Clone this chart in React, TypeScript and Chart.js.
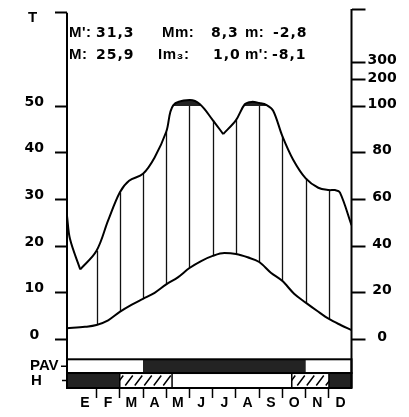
import React, { useEffect, useRef } from 'react';
import { Chart, registerables } from 'chart.js';

Chart.register(...registerables);

// ---------- data ----------
const MONTHS = ['E', 'F', 'M', 'A', 'M', 'J', 'J', 'A', 'S', 'O', 'N', 'D'];

// Temperature curve (°C); x in months counted from the start of January
const TEMP_X = [-0.27, 0.5, 1, 1.5, 2, 2.5, 3, 3.5, 4, 4.5, 5, 5.5, 6, 6.5, 7, 7.5, 8, 8.5, 9, 9.5, 10, 10.5, 11, 11.5, 11.97];
const TEMP_Y = [2.4, 2.7, 3.1, 4.1, 5.9, 7.4, 8.7, 10.0, 11.8, 13.3, 15.3, 16.8, 17.9, 18.5, 18.3, 17.6, 16.6, 14.3, 12.5, 9.8, 7.9, 6.1, 4.4, 3.1, 2.0];

// Precipitation curve (mm)
const PREC_X = [-0.27, -0.14, 0.3, 1, 1.5, 2, 2.4, 3, 3.5, 4, 4.3, 5, 5.45, 6, 6.45, 7, 7.38, 7.67, 8, 8.32, 8.6, 9, 9.46, 10, 10.54, 11, 11.26, 11.47, 11.97];
const PREC_MM = [53, 43, 30, 38, 51, 63, 68, 71, 78, 89, 103, 123, 107, 94, 88, 94, 107, 116, 112, 104, 98, 87, 77, 69, 65, 64, 64, 63, 49];

const TEMP_TICKS = [0, 10, 20, 30, 40, 50];
const TEMP_AXIS_TOP = 70;
const PREC_TICKS = [0, 20, 40, 60, 80, 100, 200, 300];
const PREC_CAP = 100;

// Bands (months)
const PAV_ACTIVE = [[3, 10]];
const FROST_SURE = [[-1, 2], [11, 13]];
const FROST_LIKELY = [[2, 4.25], [9.4, 11]];

// Statistics (label, value pairs)
const STATS_ROW1 = ["M':", '31,3', 'Mm:', '8,3', 'm:', '-2,8'];
const STATS_ROW2 = ['M:', '25,9', 'Im\u2083:', '1,0', "m':", '-8,1'];

// ---------- layout / style ----------
const W = 409;
const H = 417;
const X_MIN = -0.27;
const X_MAX = 11.97;
const Y_MIN = -10.4;
const Y_MAX = 70.8;
const ROW_PAV_TOP = -4.25;
const ROW_SPLIT = -7.19;
const DARK = '#232323';
const STAT_COLS_1 = [69, 96, 162, 211, 245, 273];
const STAT_COLS_2 = [69, 96, 158, 213, 245, 272];
const STAT_BASELINES = [36.5, 58.5];

function precToScale(p: number): number {
  if (p <= 100) return p / 2;
  if (p <= 200) return 50 + (p - 100) * 0.056;
  return 55.6 + (p - 200) * 0.037;
}

const numFont = { family: '"DejaVu Sans", sans-serif', size: 14, weight: 'bold' as const };
const letterFont = { family: '"Liberation Sans", Arial, sans-serif', size: 14, weight: 'bold' as const };

const zeroPad = (s: any) => {
  s.paddingTop = 0;
  s.paddingBottom = 0;
  s.paddingLeft = 0;
  s.paddingRight = 0;
};

const setSpacing = (ctx: any, v: string) => {
  try {
    ctx.letterSpacing = v;
  } catch (e) {
    /* ignore */
  }
};

const decorPlugin = {
  id: 'decor',
  beforeDatasetsDraw(chart: any) {
    const { ctx, chartArea } = chart;
    const xs = chart.scales.x;
    const ys = chart.scales.y;
    ctx.save();
    // humid-period hatching between the curves
    ctx.strokeStyle = '#111';
    ctx.lineWidth = 1.3;
    for (let k = 1; k <= 11; k++) {
      const ti = TEMP_X.indexOf(k);
      const pi = PREC_X.indexOf(k);
      if (ti < 0 || pi < 0) continue;
      const px = Math.round(xs.getPixelForValue(k)) + 0.5;
      ctx.beginPath();
      ctx.moveTo(px, ys.getPixelForValue(TEMP_Y[ti]));
      ctx.lineTo(px, ys.getPixelForValue(precToScale(PREC_MM[pi])));
      ctx.stroke();
    }
    // dark caps where precipitation exceeds 100 mm
    const yCap = ys.getPixelForValue(precToScale(PREC_CAP));
    ctx.beginPath();
    ctx.rect(chartArea.left, chartArea.top, chartArea.right - chartArea.left, yCap - chartArea.top);
    ctx.clip();
    ctx.fillStyle = DARK;
    chart.data.datasets.forEach((ds: any, i: number) => {
      if (!ds.isPrecip) return;
      const line = chart.getDatasetMeta(i).dataset;
      if (!line || !line.points || !line.points.length) return;
      if (line.updateControlPoints) line.updateControlPoints(chartArea, 'x');
      const pts = line.points;
      ctx.beginPath();
      line.path(ctx);
      ctx.lineTo(pts[pts.length - 1].x, yCap + 4);
      ctx.lineTo(pts[0].x, yCap + 4);
      ctx.closePath();
      ctx.fill();
    });
    ctx.restore();
  },
  afterDraw(chart: any) {
    const { ctx, chartArea } = chart;
    const xs = chart.scales.x;
    const ys = chart.scales.y;
    const left = chartArea.left;
    const right = chartArea.right;
    const cx = (v: number) => Math.min(right, Math.max(left, xs.getPixelForValue(v)));
    const yTop = ys.getPixelForValue(ROW_PAV_TOP);
    const yMid = ys.getPixelForValue(ROW_SPLIT);
    const yBot = chartArea.bottom;

    ctx.save();
    ctx.fillStyle = '#fff';
    ctx.fillRect(left, yTop, right - left, yBot - yTop);
    ctx.fillStyle = DARK;
    PAV_ACTIVE.forEach(([a, b]) => ctx.fillRect(cx(a), yTop, cx(b) - cx(a), yMid - yTop));
    FROST_SURE.forEach(([a, b]) => ctx.fillRect(cx(a), yMid, cx(b) - cx(a), yBot - yMid));
    ctx.strokeStyle = '#000';
    FROST_LIKELY.forEach(([a, b]) => {
      const xa = cx(a);
      const xb = cx(b);
      ctx.save();
      ctx.beginPath();
      ctx.rect(xa, yMid, xb - xa, yBot - yMid);
      ctx.clip();
      ctx.lineWidth = 1.5;
      ctx.beginPath();
      for (let sx = xa - 4; sx < xb + 10; sx += 9.5) {
        ctx.moveTo(sx, yBot - 2.5);
        ctx.lineTo(sx + 7.5, yMid + 2.5);
      }
      ctx.stroke();
      ctx.restore();
      ctx.lineWidth = 1.5;
      ctx.strokeRect(xa, yMid, xb - xa, yBot - yMid);
    });
    ctx.lineWidth = 2;
    ctx.strokeRect(left, yTop, right - left, yMid - yTop);
    ctx.strokeRect(left, yMid, right - left, yBot - yMid);

    // axis lines
    ctx.beginPath();
    ctx.moveTo(left, ys.getPixelForValue(TEMP_AXIS_TOP));
    ctx.lineTo(left, yBot);
    ctx.moveTo(right, chartArea.top);
    ctx.lineTo(right, yBot);
    ctx.stroke();

    // row labels with little dashes
    ctx.fillStyle = '#000';
    ctx.font = 'bold 15px "Liberation Sans", Arial, sans-serif';
    ctx.textBaseline = 'middle';
    ctx.textAlign = 'left';
    const pavY = (yTop + yMid) / 2;
    const hY = (yMid + yBot) / 2;
    ctx.fillText('PAV', 30, pavY);
    ctx.fillText('H', 31, hY);
    ctx.lineWidth = 1.5;
    ctx.beginPath();
    ctx.moveTo(left - 6, pavY);
    ctx.lineTo(left, pavY);
    ctx.moveTo(left - 5, hY);
    ctx.lineTo(left, hY);
    ctx.stroke();

    // axis title
    ctx.textAlign = 'center';
    ctx.fillText('T', 32.5, 18);

    // statistics: labels (even) in Liberation, values (odd) in DejaVu
    ctx.textAlign = 'left';
    ctx.textBaseline = 'alphabetic';
    const drawRow = (row: string[], cols: number[], yb: number) => {
      row.forEach((txt, c) => {
        if (c % 2 === 0) {
          ctx.font = 'bold 15px "Liberation Sans", Arial, sans-serif';
          setSpacing(ctx, '0.5px');
        } else {
          ctx.font = 'bold 14px "DejaVu Sans", sans-serif';
          setSpacing(ctx, '1px');
        }
        ctx.fillText(txt, cols[c], yb);
      });
    };
    drawRow(STATS_ROW1, STAT_COLS_1, STAT_BASELINES[0]);
    drawRow(STATS_ROW2, STAT_COLS_2, STAT_BASELINES[1]);
    setSpacing(ctx, '0px');
    ctx.restore();
  },
};

export default function App() {
  const ref = useRef<HTMLCanvasElement | null>(null);

  useEffect(() => {
    if (!ref.current) return;

    const tempData = TEMP_X.map((x, i) => ({ x, y: TEMP_Y[i] }));
    const precPts = PREC_X.map((x, i) => ({ x, y: precToScale(PREC_MM[i]) }));
    // split precipitation curve at its sharp local minima
    const cuts = [0];
    for (let i = 1; i < PREC_MM.length - 1; i++) {
      if (PREC_MM[i] < PREC_MM[i - 1] && PREC_MM[i] < PREC_MM[i + 1]) cuts.push(i);
    }
    cuts.push(PREC_MM.length - 1);
    const precSegments = cuts.slice(0, -1).map((c, j) => precPts.slice(c, cuts[j + 1] + 1));

    const datasets: any[] = [
      {
        label: 'T',
        data: tempData,
        borderColor: '#000',
        borderWidth: 2,
        pointRadius: 0,
        fill: false,
        cubicInterpolationMode: 'monotone',
        xAxisID: 'x',
        yAxisID: 'y',
      },
      ...precSegments.map((seg, j) => ({
        label: 'P' + j,
        isPrecip: true,
        data: seg,
        borderColor: '#000',
        borderWidth: 2,
        pointRadius: 0,
        tension: 0.35,
        fill: false,
        xAxisID: 'x',
        yAxisID: 'y',
      })),
    ];

    const monthTicks: number[] = [];
    for (let k = 0; k < 12; k++) {
      monthTicks.push(k + 0.5);
      if (k >= 1) monthTicks.push(k);
    }
    monthTicks.sort((a, b) => a - b);

    const chart = new Chart(ref.current, {
      type: 'line',
      data: { datasets },
      options: {
        animation: false,
        responsive: false,
        layout: { padding: { top: 9, left: 0, right: 0, bottom: 0 } },
        plugins: {
          legend: { display: false },
          tooltip: { enabled: false },
          title: { display: false },
        },
        scales: {
          x: {
            type: 'linear',
            min: X_MIN,
            max: X_MAX,
            afterBuildTicks: (s: any) => {
              s.ticks = monthTicks.map((v) => ({ value: v }));
            },
            afterFit: (s: any) => {
              s.height = 29;
              zeroPad(s);
            },
            ticks: {
              autoSkip: false,
              maxRotation: 0,
              minRotation: 0,
              padding: -3,
              color: '#000',
              font: letterFont,
              callback: (v: any) => {
                const n = Number(v);
                return Number.isInteger(n) ? '' : MONTHS[Math.floor(n)];
              },
            },
            grid: {
              drawOnChartArea: false,
              drawTicks: true,
              tickLength: 10,
              tickWidth: 1.5,
              tickColor: (ctx: any) =>
                ctx.tick && Number.isInteger(ctx.tick.value) ? '#000' : 'rgba(0,0,0,0)',
            },
            border: { display: false },
          },
          y: {
            type: 'linear',
            position: 'left',
            min: Y_MIN,
            max: Y_MAX,
            afterBuildTicks: (s: any) => {
              s.ticks = [...TEMP_TICKS, TEMP_AXIS_TOP].map((v) => ({ value: v }));
            },
            afterFit: (s: any) => {
              s.width = 67;
              zeroPad(s);
            },
            ticks: {
              color: '#000',
              font: numFont,
              crossAlign: 'center',
              padding: 11,
              labelOffset: -4,
              callback: (v: any) => (TEMP_TICKS.includes(Number(v)) ? String(v) : ''),
            },
            grid: {
              drawOnChartArea: false,
              drawTicks: true,
              tickLength: 12,
              tickWidth: 2,
              tickColor: '#000',
            },
            border: { display: false },
          },
          y2: {
            type: 'linear',
            position: 'right',
            min: Y_MIN,
            max: Y_MAX,
            afterBuildTicks: (s: any) => {
              s.ticks = [...PREC_TICKS.map(precToScale), Y_MAX].map((v) => ({ value: v }));
            },
            afterFit: (s: any) => {
              s.width = 57.5;
              zeroPad(s);
            },
            ticks: {
              color: '#000',
              font: numFont,
              crossAlign: 'center',
              padding: 2,
              labelOffset: -2,
              callback: (v: any, i: number) => (i < PREC_TICKS.length ? String(PREC_TICKS[i]) : ''),
            },
            grid: {
              drawOnChartArea: false,
              drawTicks: true,
              tickLength: 14,
              tickWidth: 2,
              tickColor: '#000',
            },
            border: { display: false },
          },
        },
      },
      plugins: [decorPlugin],
    });

    return () => chart.destroy();
  }, []);

  return (
    <div style={{ position: 'absolute', left: 0, top: 0, width: W, height: H, background: '#fff' }}>
      <canvas ref={ref} width={W} height={H} />
    </div>
  );
}
